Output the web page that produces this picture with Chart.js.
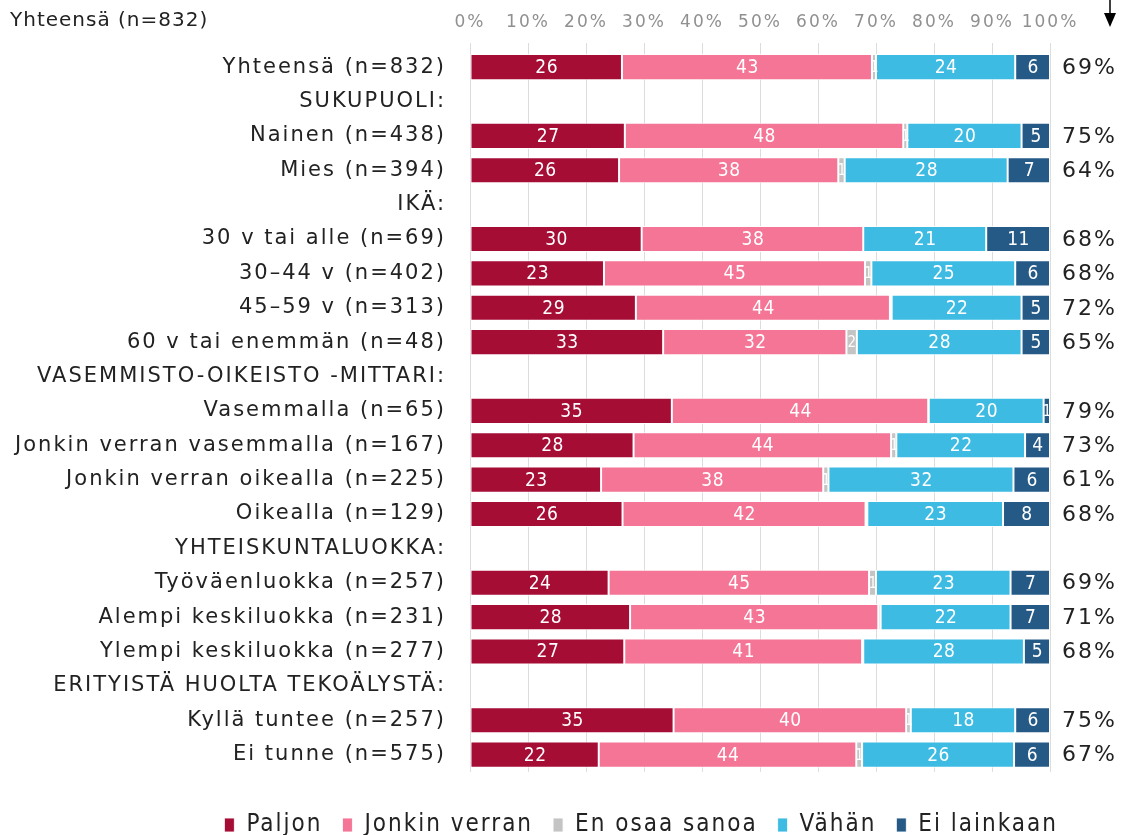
<!DOCTYPE html>
<html>
<head>
<meta charset="utf-8">
<script src="https://cdn.jsdelivr.net/npm/chart.js@4.4.1/dist/chart.umd.min.js"></script>
<style>
html,body{margin:0;padding:0;background:#fff;overflow:hidden;}
#wrap{width:1129px;height:847px;position:relative;}
</style>
</head>
<body>
<div id="wrap"><canvas id="c"></canvas></div>
<script>
const categories = [
  'Yhteensä (n=832)', 'SUKUPUOLI:', 'Nainen (n=438)', 'Mies (n=394)', 'IKÄ:',
  '30 v tai alle (n=69)', '30–44 v (n=402)', '45–59 v (n=313)', '60 v tai enemmän (n=48)',
  'VASEMMISTO-OIKEISTO -MITTARI:', 'Vasemmalla (n=65)', 'Jonkin verran vasemmalla (n=167)',
  'Jonkin verran oikealla (n=225)', 'Oikealla (n=129)', 'YHTEISKUNTALUOKKA:',
  'Työväenluokka (n=257)', 'Alempi keskiluokka (n=231)', 'Ylempi keskiluokka (n=277)',
  'ERITYISTÄ HUOLTA TEKOÄLYSTÄ:', 'Kyllä tuntee (n=257)', 'Ei tunne (n=575)'
];
const seriesNames = ['Paljon', 'Jonkin verran', 'En osaa sanoa', 'Vähän', 'Ei lainkaan'];
const paljon      = [26.2, null, 26.7, 25.7, null, 29.6, 23.1, 28.6, 33.3, null, 34.8, 28.2, 22.6, 26.3, null, 23.9, 27.6, 26.6, null, 35.1, 22.2];
const jonkinVerran= [43.1, null, 48.0, 37.8, null, 38.2, 45.0, 43.8, 31.6, null, 44.2, 44.4, 38.3, 41.9, null, 44.9, 42.8, 41.0, null, 40.1, 44.4];
const enOsaaSanoa = [0.7,  null, 0.7,  1.1,  null, 0.0,  1.1,  0.3,  1.8,  null, 0.1,  0.9,  0.9,  0.3,  null, 1.2,  0.4,  0.2,  null, 0.8,  1.0];
const vahan       = [24.0, null, 19.7, 28.1, null, 21.2, 24.8, 22.4, 28.4, null, 19.8, 22.2, 31.9, 23.4, null, 23.2, 22.4, 27.7, null, 18.0, 26.2];
const eiLainkaan  = [6.0,  null, 4.9,  7.3,  null, 11.0, 6.0,  4.9,  4.9,  null, 1.1,  4.3,  6.3,  8.1,  null, 6.8,  6.8,  4.5,  null, 6.0,  6.2];
const sumLabels   = ['69%', '', '75%', '64%', '', '68%', '68%', '72%', '65%', '', '79%', '73%', '61%', '68%', '', '69%', '71%', '68%', '', '75%', '67%'];
const xTicks = [0, 10, 20, 30, 40, 50, 60, 70, 80, 90, 100];
const headerTitle = 'Yhteensä (n=832)';

const colors = ['#A50D35', '#F47595', '#C4C4C4', '#3DBBE3', '#255A87'];
const seriesData = [paljon, jonkinVerran, enOsaaSanoa, vahan, eiLainkaan];

const catFont = "'DejaVu Sans', Verdana, sans-serif";
const numFont = "'DejaVu Sans Condensed', 'Liberation Sans Narrow', 'DejaVu Sans', sans-serif";

const spacing = {
  id: 'spacing',
  beforeLayout(chart) { chart.ctx.letterSpacing = '2px'; },
  afterLayout(chart) {
    if (chart.legend) { chart.legend.left += 28; chart.legend.right += 28; }
  },
  beforeDraw(chart) { chart.ctx.letterSpacing = '2px'; }
};

const segLabels = {
  id: 'segLabels',
  afterDatasetsDraw(chart) {
    const ctx = chart.ctx;
    ctx.save();
    ctx.letterSpacing = '0.5px';
    ctx.textAlign = 'center';
    ctx.textBaseline = 'middle';
    chart.data.datasets.forEach((ds, di) => {
      const meta = chart.getDatasetMeta(di);
      meta.data.forEach((el, i) => {
        const v = ds.data[i];
        if (v == null || v < 0.5) return;
        const r = Math.round(v);
        const w = Math.abs(el.x - el.base);
        ctx.font = (w < 12 ? '15px ' : '19px ') + numFont;
        ctx.fillStyle = di === 2 ? 'rgba(255,255,255,0.95)' : '#fff';
        ctx.fillText(String(r), (el.x + el.base) / 2 + 0.5, el.y + 1);
      });
    });
    // right labels
    const yScale = chart.scales.y;
    ctx.fillStyle = '#222';
    ctx.textAlign = 'left';
    ctx.letterSpacing = '2px';
    ctx.font = '22px ' + catFont;
    sumLabels.forEach((t, i) => {
      if (!t) return;
      ctx.fillText(t, chart.chartArea.right + 12, yScale.getPixelForValue(i) + 1);
    });
    // title
    ctx.font = '20px ' + catFont;
    ctx.letterSpacing = '1px';
    ctx.fillStyle = '#222';
    ctx.fillText(headerTitle, 10, 21);
    // arrow
    ctx.strokeStyle = '#000';
    ctx.lineWidth = 1.5;
    ctx.beginPath();
    ctx.moveTo(1110, 0);
    ctx.lineTo(1110, 15);
    ctx.stroke();
    ctx.fillStyle = '#000';
    ctx.beginPath();
    ctx.moveTo(1104, 13);
    ctx.lineTo(1116, 13);
    ctx.lineTo(1110, 27);
    ctx.closePath();
    ctx.fill();
    ctx.restore();
  }
};

new Chart(document.getElementById('c'), {
  type: 'bar',
  data: {
    labels: categories,
    datasets: seriesData.map((d, i) => ({
      label: seriesNames[i],
      data: d,
      backgroundColor: colors[i],
      borderColor: 'rgba(255,255,255,0.85)',
      borderWidth: 1,
      borderSkipped: false,
      barPercentage: 0.76,
      categoryPercentage: 1.0
    }))
  },
  options: {
    indexAxis: 'y',
    responsive: true,
    maintainAspectRatio: false,
    animation: false,
    layout: { padding: { left: 0, right: 79, top: 0, bottom: 0 } },
    scales: {
      x: {
        position: 'top',
        stacked: true,
        min: 0, max: 100,
        afterBuildTicks(scale) { scale.ticks = xTicks.map(v => ({ value: v })); },
        afterFit(scale) { scale.height = 50; },
        ticks: {
          callback: v => v + '%',
          color: '#909090',
          font: { family: catFont, size: 17 },
          padding: 10,
          maxRotation: 0,
          autoSkip: false
        },
        grid: { color: '#dcdcdc', lineWidth: 1, tickLength: 7, drawTicks: true },
        border: { display: false }
      },
      y: {
        stacked: true,
        afterFit(scale) { scale.width = 470; },
        ticks: {
          color: '#222',
          font: { family: catFont, size: 21 },
          padding: 16,
          autoSkip: false
        },
        grid: { display: false },
        border: { display: false }
      }
    },
    plugins: {
      legend: {
        position: 'bottom',
        align: 'end',
        title: { display: true, text: ' ', font: { size: 1 }, padding: { top: 0, bottom: 20 } },
        labels: {
          boxWidth: 10,
          boxHeight: 14,
          padding: 20,
          color: '#222',
          font: { family: numFont, size: 24 }
        }
      },
      tooltip: { enabled: false }
    }
  },
  plugins: [spacing, segLabels]
});
</script>
</body>
</html>
